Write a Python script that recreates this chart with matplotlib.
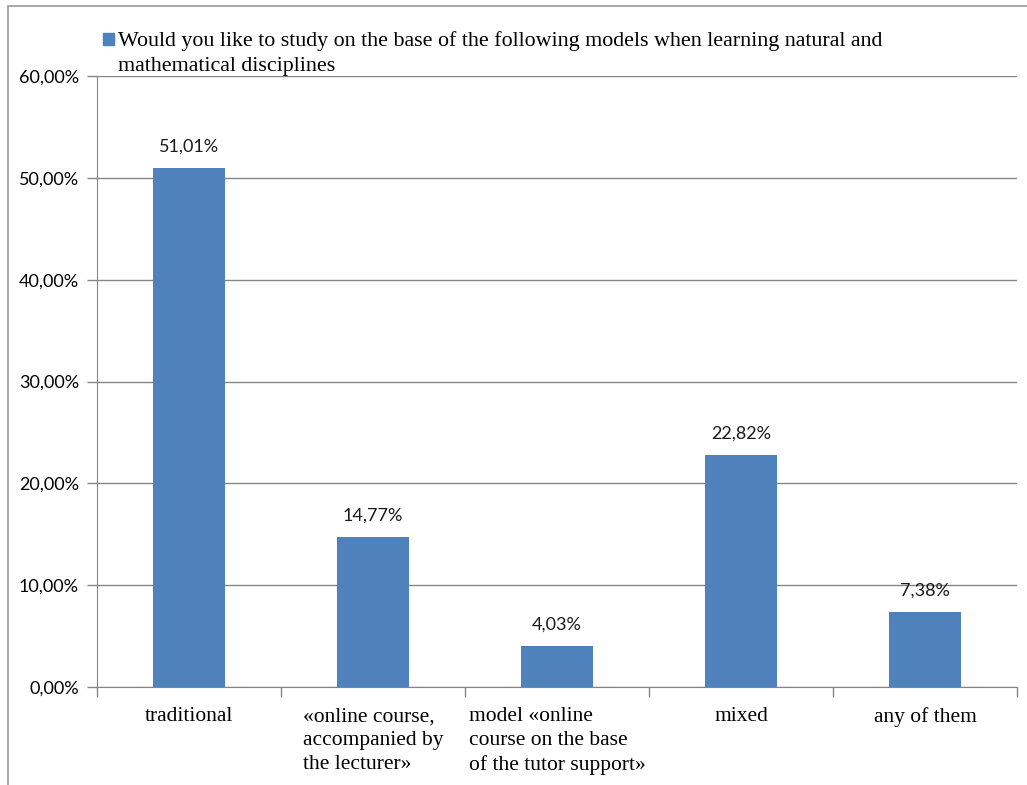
import numpy as np
import matplotlib.pyplot as plt
from matplotlib.patches import Rectangle

categories = ['traditional',
              '«online course,\naccompanied by\nthe lecturer»',
              'model «online\ncourse on the base\nof the tutor support»',
              'mixed',
              'any of them']
shares = [51.01, 14.77, 4.03, 22.82, 7.38]
series_name = ('Would you like to study on the base of the following models when learning natural and\n'
               'mathematical disciplines')
yticks = [0, 10, 20, 30, 40, 50, 60]

bar_color = '#4F81BD'
grid_color = '#868686'
sans = ['Lato', 'DejaVu Sans']
serif = ['Liberation Serif', 'DejaVu Serif']

fig = plt.figure(figsize=(10.27, 7.85), dpi=100)
ax = fig.add_axes([97 / 1027, 1 - 687 / 785, 920 / 1027, 611 / 785])

x = np.arange(len(shares))
ax.bar(x, shares, width=0.39, color=bar_color, zorder=3)
for xi, v in zip(x, shares):
    ax.text(xi, v + 1.3, f'{v:.2f}%'.replace('.', ','), ha='center', va='bottom',
            fontsize=13, family=sans, color='#1a1a1a')

ax.set_xlim(-0.5, len(shares) - 0.5)
ax.set_ylim(0, 60)
ax.set_yticks(yticks)
ax.set_yticklabels([f'{t:.2f}%'.replace('.', ',') for t in yticks], family=sans, fontsize=13)
ax.grid(axis='y', color=grid_color, linewidth=1, zorder=0)

# category separators as ticks on the x axis
ax.set_xticks(np.arange(len(shares) + 1) - 0.5)
ax.set_xticklabels([])
ax.tick_params(axis='x', length=7, color=grid_color, width=1)
ax.tick_params(axis='y', length=7, color=grid_color, width=1, pad=6)
for xi, lab in zip(x, categories):
    ax.text(xi, -2.0, lab, ha='center', va='top', multialignment='left',
            fontsize=15.5, family=serif, linespacing=1.35, transform=ax.transData)

for side in ['top', 'right']:
    ax.spines[side].set_visible(False)
for side in ['left', 'bottom']:
    ax.spines[side].set_color(grid_color)

# legend drawn by hand above the plot
fig.patches.append(Rectangle((103 / 1027, 1 - 45 / 785), 11 / 1027, 12 / 785,
                             transform=fig.transFigure, color=bar_color))
fig.text(118 / 1027, 1 - 31 / 785, series_name, ha='left', va='top',
         fontsize=15.8, family=serif, linespacing=1.45)

# outer chart frame
fig.patches.append(Rectangle((8 / 1027, -0.1), 1.2, 1 - 6 / 785 + 0.1,
                             transform=fig.transFigure, fill=False,
                             edgecolor='#9a9a9a', linewidth=1.2))

fig.savefig('out.png', dpi=100)
